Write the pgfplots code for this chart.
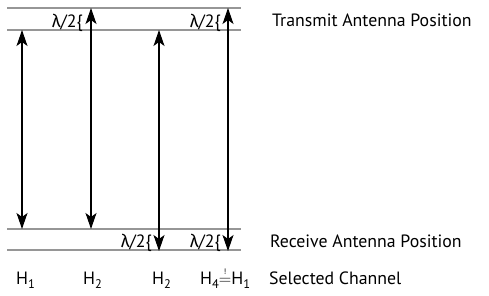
\documentclass[border=0pt]{standalone}
\usepackage{pgfplots}
\pgfplotsset{compat=1.18}
\usepackage{fontspec}
\setmainfont{PT Sans}
\newfontfamily\grk{Fira Sans}
\usetikzlibrary{arrows.meta}
\definecolor{lin}{RGB}{150,150,150}
\newcommand\sub[1]{\raisebox{-0.45ex}{\fontsize{12.5}{12.5}\selectfont #1}}
\newcommand\lam{{\grk λ}/2\{}
\newcommand\exeq{$\stackrel{\raisebox{1.5pt}{\fontsize{8}{8}\selectfont !}}{=}$}
\tikzset{arr/.style={black, mark=none, line width=1.1pt, {Stealth[length=16pt,width=11pt,inset=4pt]}-{Stealth[length=16pt,width=11pt,inset=4pt]}},
  gl/.style={lin, mark=none, line width=1.3pt},
  tx/.style={inner sep=0pt, font=\fontsize{17.8}{17.8}\selectfont}}
\begin{document}
\begin{tikzpicture}
\begin{axis}[scale only axis, width=489pt, height=295pt,
  xmin=0, xmax=489, ymin=0, ymax=295, y dir=reverse, hide axis,
  clip=false]
\addplot[gl] coordinates {(7,8) (241,8)};
\addplot[gl] coordinates {(7,30) (241,30)};
\addplot[gl] coordinates {(7,229) (241,229)};
\addplot[gl] coordinates {(7,250) (241,250)};
\addplot[arr] coordinates {(22,30) (22,229)};
\addplot[arr] coordinates {(91,8) (91,229)};
\addplot[arr] coordinates {(159,30) (159,251)};
\addplot[arr] coordinates {(228,8) (228,251)};
\node[tx, anchor=base east] at (axis cs:83,27) {\lam};
\node[tx, anchor=base east] at (axis cs:221,27) {\lam};
\node[tx, anchor=base east] at (axis cs:152,247) {\lam};
\node[tx, anchor=base east] at (axis cs:221,247) {\lam};
\node[tx, anchor=base west] at (axis cs:272,26) {Transmit Antenna Position};
\node[tx, anchor=base west] at (axis cs:270,247) {Receive Antenna Position};
\node[tx, anchor=base west] at (axis cs:269,284) {Selected Channel};
\node[tx, anchor=base west] at (axis cs:16,284) {H\sub{1}};
\node[tx, anchor=base west] at (axis cs:83,284) {H\sub{2}};
\node[tx, anchor=base west] at (axis cs:152,284) {H\sub{2}};
\node[tx, anchor=base west] at (axis cs:200,284) {H\sub{4}\exeq H\sub{1}};
\end{axis}
\path (current axis.south west) rectangle (current axis.north east);
\end{tikzpicture}
\end{document}
